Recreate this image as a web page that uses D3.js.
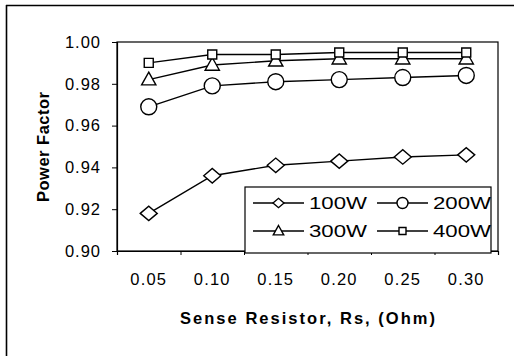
<!DOCTYPE html>
<html><head><meta charset="utf-8">
<script src="https://cdn.jsdelivr.net/npm/d3@7/dist/d3.min.js"></script>
<style>
body{margin:0;background:#fff;}
svg{display:block;}
text{font-family:"Liberation Sans",Arial,sans-serif;fill:#000;}
</style></head><body>
<svg id="chart" width="514" height="356"></svg>
<script>
const categories = ["0.05","0.10","0.15","0.20","0.25","0.30"];
const yTicks = [0.90,0.92,0.94,0.96,0.98,1.00];
const seriesNames = ["100W","200W","300W","400W"];
const s100 = [0.918,0.936,0.941,0.943,0.945,0.946];
const s200 = [0.969,0.979,0.981,0.982,0.983,0.984];
const s300 = [0.982,0.989,0.991,0.992,0.992,0.992];
const s400 = [0.990,0.994,0.994,0.995,0.995,0.995];
const seriesValues = [s100,s200,s300,s400];
const markers = ["diamond","circle","triangle","square"];

const svg = d3.select("#chart");
const L=117,R=498,T=42,B=251;
const x = d3.scaleBand().domain(categories).range([L,R]);
const y = d3.scaleLinear().domain([0.90,1.00]).range([B,T]);

// outer frame
svg.append("line").attr("x1",6).attr("x2",514).attr("y1",5.5).attr("y2",5.5).attr("stroke","#000").attr("stroke-width",1.6);
svg.append("line").attr("x1",6.5).attr("x2",6.5).attr("y1",5).attr("y2",356).attr("stroke","#000").attr("stroke-width",1.6);

// plot border
svg.append("rect").attr("x",L).attr("y",T).attr("width",R-L).attr("height",B-T)
  .attr("fill","none").attr("stroke","#000").attr("stroke-width",1.2);

// y axis
const ya = svg.append("g").attr("transform",`translate(${L},0)`)
  .call(d3.axisLeft(y).tickValues(yTicks).tickFormat(d3.format(".2f")).tickSize(5).tickPadding(11));
ya.select(".domain").attr("stroke-width",1.2);
ya.selectAll("text").attr("font-size",16.5).style("letter-spacing","1px");

// x axis ticks at category boundaries
const xi = d3.scaleLinear().domain([0,categories.length]).range([L,R]);
const xt = svg.append("g").attr("transform",`translate(0,${B})`)
  .call(d3.axisBottom(xi).ticks(categories.length).tickFormat("").tickSize(4));
xt.select(".domain").attr("stroke-width",1.2);
const xl = svg.append("g").attr("transform",`translate(0,${B})`)
  .call(d3.axisBottom(x).tickSize(0).tickPadding(22));
xl.select(".domain").remove();
xl.selectAll("text").attr("font-size",16.5).style("letter-spacing","1.2px");

// axis titles
svg.append("text").attr("x",(L+R)/2).attr("y",324).attr("text-anchor","middle")
  .attr("font-size",16.5).attr("font-weight","bold")
  .attr("textLength",255).attr("lengthAdjust","spacing")
  .text("Sense Resistor, Rs, (Ohm)");
svg.append("text").attr("transform",`translate(49,147) rotate(-90)`).attr("text-anchor","middle")
  .attr("font-size",16.5).attr("font-weight","bold")
  .attr("textLength",110).attr("lengthAdjust","spacing")
  .text("Power Factor");

function marker(g, type, cx, cy, s){
  const p = g.append("path").attr("fill","#fff").attr("stroke","#000").attr("stroke-width",1.4);
  if(type==="diamond"){
    p.attr("d",`M${cx-s},${cy}L${cx},${cy-s*0.85}L${cx+s},${cy}L${cx},${cy+s*0.85}Z`);
  } else if(type==="circle"){
    p.attr("d",d3.arc()({innerRadius:0,outerRadius:s,startAngle:0,endAngle:2*Math.PI})).attr("transform",`translate(${cx},${cy})`);
  } else if(type==="triangle"){
    p.attr("d",`M${cx},${cy-s}L${cx+s*0.95},${cy+s*0.7}L${cx-s*0.95},${cy+s*0.7}Z`);
  } else {
    p.attr("d",`M${cx-s},${cy-s}H${cx+s}V${cy+s}H${cx-s}Z`);
  }
}
const markerSize = {diamond:8.5,circle:8,triangle:7.5,square:4.5};
const line = d3.line().x((d,i)=>x(categories[i])+x.bandwidth()/2).y(d=>y(d));

seriesValues.forEach((vals,k)=>{
  const g = svg.append("g");
  g.append("path").attr("d",line(vals)).attr("fill","none").attr("stroke","#000").attr("stroke-width",1.4);
  vals.forEach((v,i)=>marker(g,markers[k],x(categories[i])+x.bandwidth()/2,y(v),markerSize[markers[k]]));
});

// legend
const lg = svg.append("g");
lg.append("rect").attr("x",245).attr("y",187).attr("width",246).attr("height",66)
  .attr("fill","#fff").attr("stroke","#000").attr("stroke-width",1.2);
const legendSize = {diamond:5.5,circle:5.5,triangle:5.5,square:3.5};
const lx = [253,377], ly=[203,231];
seriesNames.forEach((n,k)=>{
  const col=k%2,row=Math.floor(k/2);
  const x0=lx[col], y0=ly[row];
  lg.append("line").attr("x1",x0).attr("x2",x0+51).attr("y1",y0).attr("y2",y0).attr("stroke","#000").attr("stroke-width",1.4);
  marker(lg,markers[k],x0+25.5,y0,legendSize[markers[k]]);
  lg.append("text").attr("x",x0+56).attr("y",y0+6).attr("font-size",17)
    .attr("textLength",58).attr("lengthAdjust","spacingAndGlyphs").text(n);
});
</script>
</body></html>
